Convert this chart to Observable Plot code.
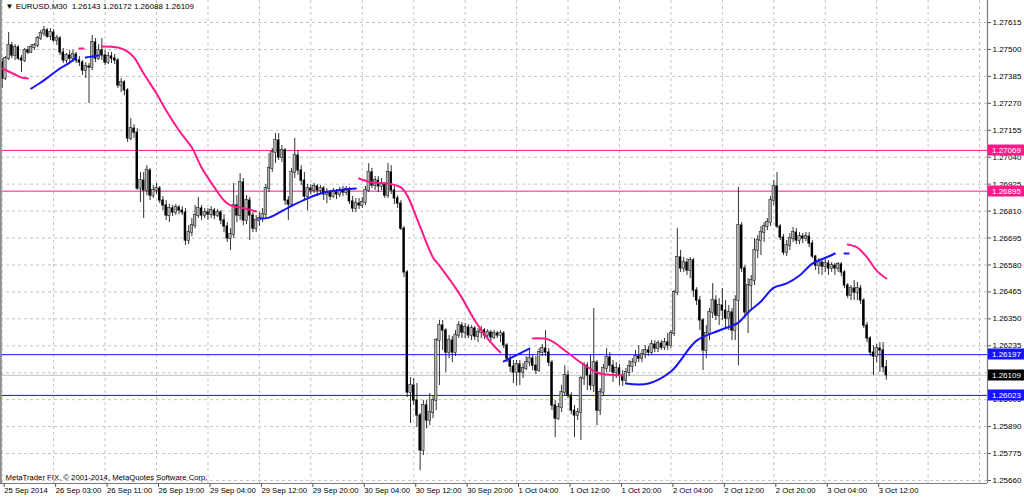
<!DOCTYPE html>
<html><head><meta charset="utf-8">
<script src="https://cdn.jsdelivr.net/npm/d3@7"></script>
<script src="https://cdn.jsdelivr.net/npm/@observablehq/plot@0.6"></script>
<style>
html,body{margin:0;padding:0;background:#fff;}
#chart svg{display:block;}
</style></head><body><div id="chart"></div>
<script>
// ---- DATA (EURUSD M30) ----
const titleText = "\u25BC EURUSD,M30  1.26143 1.26172 1.26088 1.26109";
const copyright = "MetaTrader FIX, \u00A9 2001-2014, MetaQuotes Software Corp.";
const timeLabels = ["25 Sep 2014","26 Sep 03:00","26 Sep 11:00","26 Sep 19:00","29 Sep 04:00","29 Sep 12:00","29 Sep 20:00","30 Sep 04:00","30 Sep 12:00","30 Sep 20:00","1 Oct 04:00","1 Oct 12:00","1 Oct 20:00","2 Oct 04:00","2 Oct 12:00","2 Oct 20:00","3 Oct 04:00","3 Oct 12:00"];
const timeTickBars = [0,16,32,48,64,80,96,112,128,144,160,176,192,208,224,240,256,272];
const gridBars = [0,16,32,48,64,80,96,112,128,144,160,176,192,208,224,240,256,272,288,304];
const priceTicks = [1.27615,1.27500,1.27385,1.27270,1.27155,1.27040,1.26925,1.26810,1.26695,1.26580,1.26465,1.26350,1.26235,1.26120,1.26005,1.25890,1.25775,1.25660];
const pinkLevels = [1.27069, 1.26895];
const blueLevels = [1.26197, 1.26023];
const bidLevel = 1.26109;

const firstOpen = 1.27444;
const closes = [1.27376,1.27461,1.27517,1.27474,1.27508,1.27461,1.27453,1.27496,1.27487,1.27508,
1.27517,1.27547,1.27568,1.27581,1.27555,1.27572,1.27538,1.27547,1.27487,1.27453,
1.27474,1.27461,1.27478,1.27453,1.27444,1.27410,1.27427,1.27423,1.27530,1.27461,
1.27496,1.27474,1.27444,1.27470,1.27461,1.27453,1.27346,1.27359,1.27325,1.27120,
1.27162,1.27145,1.26906,1.26940,1.26898,1.26983,1.26876,1.26898,1.26906,1.26855,
1.26834,1.26791,1.26821,1.26804,1.26825,1.26812,1.26804,1.26684,1.26718,1.26748,
1.26791,1.26821,1.26791,1.26804,1.26795,1.26812,1.26791,1.26804,1.26770,1.26744,
1.26693,1.26710,1.26834,1.26791,1.26932,1.26770,1.26855,1.26791,1.26735,1.26770,
1.26778,1.26795,1.26906,1.26992,1.27060,1.27111,1.27039,1.27069,1.26855,1.26838,
1.26975,1.27047,1.26983,1.26940,1.26872,1.26906,1.26898,1.26915,1.26898,1.26906,
1.26881,1.26889,1.26872,1.26889,1.26881,1.26898,1.26889,1.26902,1.26851,1.26821,
1.26842,1.26834,1.26846,1.26898,1.26975,1.26919,1.26940,1.26915,1.26923,1.26876,
1.26975,1.26898,1.26864,1.26842,1.26735,1.26548,1.26035,1.26065,1.26001,1.25937,
1.25788,1.25980,1.25916,1.25950,1.26001,1.26257,1.26321,1.26300,1.26206,1.26257,
1.26206,1.26279,1.26321,1.26291,1.26313,1.26279,1.26308,1.26274,1.26291,1.26300,
1.26279,1.26291,1.26270,1.26287,1.26279,1.26287,1.26236,1.26180,1.26146,1.26121,
1.26155,1.26121,1.26138,1.26163,1.26180,1.26150,1.26129,1.26206,1.26223,1.26206,
1.26163,1.25980,1.25924,1.25971,1.26035,1.26108,1.26022,1.25958,1.25937,1.25950,
1.26095,1.26150,1.26108,1.26065,1.26163,1.25958,1.26035,1.26138,1.26185,1.26150,
1.26121,1.26138,1.26108,1.26086,1.26121,1.26146,1.26163,1.26189,1.26180,1.26197,
1.26215,1.26206,1.26240,1.26223,1.26244,1.26227,1.26249,1.26236,1.26287,1.26462,
1.26612,1.26565,1.26590,1.26556,1.26599,1.26471,1.26428,1.26343,1.26215,1.26287,
1.26377,1.26428,1.26364,1.26407,1.26385,1.26351,1.26377,1.26300,1.26428,1.26748,
1.26565,1.26377,1.26492,1.26513,1.26642,1.26684,1.26718,1.26744,1.26761,1.26855,
1.26915,1.26744,1.26697,1.26633,1.26663,1.26693,1.26718,1.26684,1.26701,1.26693,
1.26701,1.26671,1.26616,1.26577,1.26590,1.26573,1.26586,1.26565,1.26577,1.26565,
1.26582,1.26548,1.26492,1.26449,1.26479,1.26462,1.26479,1.26428,1.26321,1.26266,
1.26206,1.26189,1.26223,1.26215,1.26143,1.26109];
const highs = [1.27461,1.27470,1.27572,1.27530,1.27521,1.27517,1.27474,1.27504,1.27513,1.27521,
1.27525,1.27555,1.27581,1.27598,1.27589,1.27589,1.27585,1.27560,1.27555,1.27504,
1.27483,1.27496,1.27496,1.27487,1.27470,1.27453,1.27444,1.27440,1.27560,1.27547,
1.27521,1.27547,1.27496,1.27487,1.27487,1.27478,1.27461,1.27376,1.27367,1.27333,
1.27205,1.27179,1.27162,1.26975,1.26975,1.27004,1.26992,1.26919,1.26928,1.26915,
1.26872,1.26855,1.26838,1.26834,1.26838,1.26834,1.26829,1.26821,1.26748,1.26778,
1.26834,1.26868,1.26834,1.26821,1.26821,1.26829,1.26821,1.26817,1.26812,1.26795,
1.26761,1.26735,1.26928,1.26876,1.26970,1.26949,1.26876,1.26868,1.26804,1.26791,
1.26804,1.26821,1.26923,1.27056,1.27077,1.27141,1.27141,1.27090,1.27077,1.26872,
1.26992,1.27120,1.27069,1.27004,1.26975,1.26923,1.26923,1.26928,1.26923,1.26919,
1.26915,1.26906,1.26898,1.26906,1.26902,1.26911,1.26915,1.26915,1.26911,1.26872,
1.26864,1.26864,1.26868,1.26915,1.27013,1.26992,1.26957,1.26957,1.26949,1.26932,
1.27013,1.27004,1.26915,1.26876,1.26855,1.26744,1.26556,1.26099,1.26095,1.26074,
1.25946,1.26001,1.26001,1.26031,1.26022,1.26266,1.26343,1.26343,1.26308,1.26279,
1.26274,1.26300,1.26338,1.26334,1.26330,1.26325,1.26321,1.26317,1.26308,1.26317,
1.26308,1.26304,1.26300,1.26300,1.26296,1.26300,1.26296,1.26244,1.26193,1.26172,
1.26172,1.26172,1.26159,1.26189,1.26215,1.26193,1.26189,1.26223,1.26240,1.26300,
1.26223,1.26172,1.26001,1.25988,1.26065,1.26150,1.26129,1.26035,1.25980,1.25967,
1.26103,1.26163,1.26163,1.26193,1.26394,1.26172,1.26052,1.26155,1.26223,1.26206,
1.26172,1.26163,1.26155,1.26129,1.26138,1.26172,1.26180,1.26215,1.26236,1.26219,
1.26236,1.26232,1.26257,1.26257,1.26257,1.26257,1.26266,1.26287,1.26300,1.26471,
1.26735,1.26642,1.26612,1.26607,1.26612,1.26607,1.26483,1.26445,1.26351,1.26321,
1.26394,1.26501,1.26449,1.26436,1.26479,1.26428,1.26407,1.26394,1.26449,1.26911,
1.26761,1.26577,1.26522,1.26535,1.26693,1.26706,1.26744,1.26761,1.26778,1.26872,
1.26940,1.26975,1.26752,1.26710,1.26684,1.26714,1.26740,1.26735,1.26718,1.26714,
1.26718,1.26718,1.26684,1.26620,1.26607,1.26607,1.26603,1.26599,1.26590,1.26586,
1.26590,1.26590,1.26556,1.26501,1.26492,1.26513,1.26505,1.26492,1.26436,1.26334,
1.26274,1.26236,1.26240,1.26249,1.26249,1.26172];
const lows = [1.27333,1.27367,1.27453,1.27461,1.27453,1.27453,1.27402,1.27444,1.27478,1.27483,
1.27496,1.27508,1.27538,1.27555,1.27547,1.27538,1.27530,1.27517,1.27474,1.27440,
1.27440,1.27444,1.27444,1.27440,1.27427,1.27389,1.27376,1.27269,1.27410,1.27444,
1.27453,1.27453,1.27431,1.27436,1.27440,1.27436,1.27333,1.27316,1.27303,1.27103,
1.27111,1.27120,1.26898,1.26846,1.26778,1.26876,1.26855,1.26864,1.26881,1.26842,
1.26812,1.26770,1.26761,1.26787,1.26791,1.26795,1.26791,1.26663,1.26667,1.26701,
1.26735,1.26778,1.26770,1.26778,1.26770,1.26778,1.26774,1.26782,1.26752,1.26718,
1.26676,1.26642,1.26693,1.26761,1.26770,1.26748,1.26752,1.26684,1.26718,1.26718,
1.26744,1.26761,1.26778,1.26889,1.26975,1.27013,1.27026,1.27017,1.26834,1.26770,
1.26829,1.26949,1.26962,1.26919,1.26855,1.26812,1.26881,1.26885,1.26872,1.26881,
1.26855,1.26842,1.26855,1.26864,1.26859,1.26868,1.26872,1.26876,1.26838,1.26804,
1.26804,1.26817,1.26821,1.26834,1.26889,1.26906,1.26898,1.26889,1.26898,1.26864,
1.26864,1.26881,1.26838,1.26821,1.26727,1.26526,1.26014,1.25903,1.25980,1.25886,
1.25702,1.25766,1.25881,1.25894,1.25924,1.25958,1.26065,1.26215,1.26121,1.26180,
1.26163,1.26189,1.26266,1.26266,1.26266,1.26266,1.26257,1.26257,1.26249,1.26266,
1.26261,1.26266,1.26253,1.26261,1.26266,1.26249,1.26223,1.26163,1.26121,1.26074,
1.26065,1.26065,1.26095,1.26129,1.26146,1.26129,1.26112,1.26121,1.26189,1.26189,
1.26146,1.25958,1.25843,1.25916,1.25950,1.26022,1.26010,1.25941,1.25843,1.25916,
1.25830,1.26065,1.26044,1.26044,1.26035,1.25894,1.25937,1.26018,1.26121,1.26121,
1.26078,1.26095,1.26065,1.26061,1.26069,1.26103,1.26121,1.26146,1.26163,1.26163,
1.26180,1.26189,1.26197,1.26206,1.26206,1.26215,1.26215,1.26215,1.26223,1.26274,
1.26449,1.26548,1.26548,1.26535,1.26522,1.26441,1.26407,1.26300,1.26129,1.26180,
1.26257,1.26351,1.26343,1.26321,1.26343,1.26308,1.26300,1.26257,1.26257,1.26150,
1.26548,1.26351,1.26287,1.26385,1.26492,1.26607,1.26620,1.26676,1.26727,1.26744,
1.26834,1.26735,1.26684,1.26620,1.26616,1.26642,1.26676,1.26667,1.26667,1.26671,
1.26680,1.26654,1.26607,1.26556,1.26539,1.26535,1.26548,1.26535,1.26548,1.26535,
1.26548,1.26530,1.26479,1.26436,1.26428,1.26428,1.26428,1.26411,1.26308,1.26249,
1.26189,1.26108,1.26163,1.26121,1.26121,1.26088];

// indicator line pieces: [bar index, price]
const pinkSegments = [
  [[0,1.27419],[2,1.27406],[4,1.27393],[6,1.27380],[8,1.27376]],
  [[24,1.27504],[25.3,1.27504]],
  [[31,1.27513],[36,1.27508],[39,1.27491],[41,1.27466],[44,1.27397],[48,1.27312],[51,1.27239],[55,1.27154],[59,1.27081],[62,1.26996],[66,1.26911],[69,1.26855],[71,1.26834],[74,1.26825],[78,1.26812],[79,1.26808]],
  [[111,1.26949],[115,1.26932],[120,1.26928],[124,1.26911],[126,1.26876],[129,1.26778],[134,1.26612],[136,1.26577],[142,1.26462],[147,1.26343],[151,1.26266],[155,1.26206]],
  [[165,1.26266],[170,1.26261],[175,1.26215],[180,1.26163],[185,1.26121],[188,1.26112],[193,1.26108]],
  [[263,1.26667],[266,1.26654],[269,1.26612],[272,1.26556],[275,1.26522]]
];
const blueSegments = [
  [[9,1.27333],[12,1.27359],[15,1.27389],[18,1.27419],[21,1.27444],[23,1.27466]],
  [[26,1.27466],[28,1.27470],[30,1.27474]],
  [[80,1.26778],[83,1.26782],[89,1.26825],[95,1.26864],[100,1.26889],[104,1.26898],[110,1.26906]],
  [[156,1.26168],[164,1.26223]],
  [[194,1.26074],[201,1.26074],[208,1.26125],[216,1.26257],[223,1.26300],[229,1.26334],[232,1.26377],[236,1.26424],[240,1.26483],[244,1.26501],[248,1.26535],[252,1.26586],[257,1.26616],[259,1.26629]],
  [[262,1.26629],[263.3,1.26629]]
];

// ---- BUILD ----
const bars = closes.map((c, i) => ({i, o: i === 0 ? firstOpen : closes[i - 1], h: highs[i], l: lows[i], c}));
const bull = bars.filter(d => d.c >= d.o);
const bear = bars.filter(d => d.c < d.o);
const PINK = "#ff1a8c", BLUE = "#1414ff";
const FONT = "'Liberation Sans', Arial, sans-serif";
const xDomain = [-0.53, 306.47];
const yDomain = [1.25647, 1.27709];

const marks = [
  Plot.ruleY(priceTicks, {stroke: "#c4c4c4", strokeDasharray: "3,3"}),
  Plot.ruleX(gridBars, {stroke: "#c4c4c4", strokeDasharray: "3,3"}),
  Plot.ruleY(pinkLevels, {stroke: PINK, strokeWidth: 1}),
  Plot.ruleY(blueLevels, {stroke: BLUE, strokeWidth: 1}),
  Plot.ruleY([bidLevel], {stroke: "#c0c0c0", strokeWidth: 1}),
  Plot.ruleX(bars, {x: "i", y1: "l", y2: "h", stroke: "#1a1a1a", strokeWidth: 0.9}),
  Plot.rect(bull, {x1: d => d.i - 0.38, x2: d => d.i + 0.38, y1: "o", y2: "c", fill: "#b4b4b4", stroke: "#222", strokeWidth: 0.6, insetTop: -0.5, insetBottom: -0.5}),
  Plot.rect(bear, {x1: d => d.i - 0.38, x2: d => d.i + 0.38, y1: "o", y2: "c", fill: "#000", insetTop: -0.5, insetBottom: -0.5}),
  ...pinkSegments.map(s => Plot.line(s, {x: d => d[0], y: d => d[1], stroke: PINK, strokeWidth: 2, curve: "catmull-rom"})),
  ...blueSegments.map(s => Plot.line(s, {x: d => d[0], y: d => d[1], stroke: BLUE, strokeWidth: 2, curve: "catmull-rom"})),
  Plot.ruleX([xDomain[0]], {stroke: "#8a8a8a", strokeWidth: 2.5}),
  Plot.ruleX([xDomain[1]], {stroke: "#7a7a7a", strokeWidth: 1.2}),
  Plot.ruleY([yDomain[0]], {stroke: "#7a7a7a", strokeWidth: 1.2}),
  Plot.axisY(priceTicks, {anchor: "right", tickSize: 3, tickPadding: 2, tickFormat: d => d.toFixed(5), label: null, stroke: "#555", fontSize: 8}),
  Plot.axisX(timeTickBars, {anchor: "bottom", tickSize: 4, tickPadding: 0, tickFormat: d => timeLabels[timeTickBars.indexOf(d)], textAnchor: "start", dx: 2, label: null, stroke: "#555", fontSize: 7.7}),
  Plot.text([titleText], {frameAnchor: "top-left", dx: 5, dy: 3, fill: "#000", fontSize: 8}),
  Plot.text([copyright], {frameAnchor: "bottom-left", dx: 5, dy: -4, fill: "#000", fontSize: 7.7})
];

const chart = Plot.plot({
  width: 1024, height: 497,
  marginLeft: 0, marginRight: 37, marginTop: 0, marginBottom: 14,
  style: {fontFamily: FONT, fontSize: "8px", color: "#000", background: "#fff", overflow: "visible"},
  x: {domain: xDomain, axis: null},
  y: {domain: yDomain, axis: null},
  marks
});

// price tags on the right axis, positioned with the plot's own y scale
const sy = chart.scale("y");
const tags = [
  {p: pinkLevels[0], color: PINK}, {p: pinkLevels[1], color: PINK},
  {p: blueLevels[0], color: BLUE}, {p: bidLevel, color: "#000"}, {p: blueLevels[1], color: BLUE}
];
const g = d3.select(chart).append("g")
  .attr("font-family", FONT).attr("font-size", "8px").attr("text-anchor", "start");
for (const t of tags) {
  const y = Math.round(sy.apply(t.p));
  g.append("rect").attr("x", 988).attr("y", y - 5.5).attr("width", 36).attr("height", 11).attr("fill", t.color);
  g.append("text").attr("x", 992).attr("y", y).attr("dy", "0.35em").attr("text-anchor", "start").attr("fill", "#fff").text(t.p.toFixed(5));
}
document.getElementById("chart").appendChild(chart);
</script>
</body></html>
